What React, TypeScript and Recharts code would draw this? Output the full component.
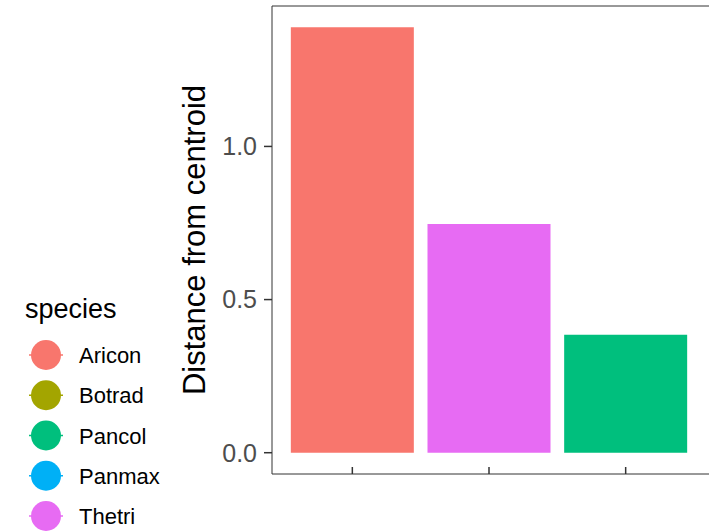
import React from "react"
import { BarChart, Bar, Cell, XAxis, YAxis, Legend } from "recharts"

// species shown as bars, in panel order
const barSpecies = ["Aricon", "Thetri", "Pancol"]
const distances = [1.389, 0.747, 0.385]

// legend entries (full factor levels)
const legendSpecies = ["Aricon", "Botrad", "Pancol", "Panmax", "Thetri"]
const speciesColors = ["#F8766D", "#A3A500", "#00BF7D", "#00B0F6", "#E76BF3"]

const yTicks = [0, 0.5, 1.0]
const yDomain = [-0.0695, 1.4585]

const FONT = '"Liberation Sans", Arial, Helvetica, sans-serif'

const data = barSpecies.map((s, i) => ({ species: s, distance: distances[i] }))
const colorOf = (s: string) => speciesColors[legendSpecies.indexOf(s)]

const YTitle = ({ viewBox }: any) => {
  const x = viewBox.x + 205
  const y = viewBox.y + viewBox.height / 2
  return (
    <text
      x={x}
      y={y}
      transform={`rotate(-90, ${x}, ${y})`}
      textAnchor="middle"
      fontFamily={FONT}
      fontSize={31}
      fill="#000"
    >
      Distance from centroid
    </text>
  )
}

const SpeciesLegend = () => (
  <svg width={170} height={250} style={{ display: "block" }}>
    <text x={25} y={28} fontFamily={FONT} fontSize={27} fill="#000">
      species
    </text>
    {legendSpecies.map((s, i) => {
      const cy = 65 + i * 40.25
      return (
        <g key={s}>
          <line x1={29} x2={63} y1={cy} y2={cy} stroke={speciesColors[i]} strokeWidth={1.5} />
          <circle cx={46} cy={cy} r={15} fill={speciesColors[i]} />
          <text x={79} y={cy + 8} fontFamily={FONT} fontSize={22} fill="#000">
            {s}
          </text>
        </g>
      )
    })}
  </svg>
)

export default function App() {
  return (
    <div style={{ position: "absolute", left: 0, top: 0, width: 709, height: 532, overflow: "hidden", background: "#fff" }}>
      <BarChart
        width={711}
        height={532}
        data={data}
        margin={{ top: 5, right: 1, bottom: 58, left: 0 }}
        barCategoryGap="5%"
      >
        <XAxis
          dataKey="species"
          height={1}
          mirror
          padding={{ left: 12, right: 16 }}
          tickFormatter={() => ""}
          tickSize={7}
          tickLine={{ stroke: "#333", strokeWidth: 1.5 }}
          axisLine={{ stroke: "#333", strokeWidth: 1 }}
        />
        <XAxis
          xAxisId="top"
          orientation="top"
          dataKey="species"
          height={1}
          tick={false}
          tickLine={false}
          axisLine={{ stroke: "#333", strokeWidth: 1 }}
        />
        <YAxis
          width={272}
          type="number"
          domain={yDomain}
          allowDataOverflow
          ticks={yTicks}
          tickFormatter={(v: number) => v.toFixed(1)}
          tickSize={8}
          tickMargin={7}
          tick={{ fontFamily: FONT, fontSize: 25, fill: "#4D4D4D" }}
          tickLine={{ stroke: "#333", strokeWidth: 1.5 }}
          axisLine={{ stroke: "#333", strokeWidth: 1 }}
          label={<YTitle />}
        />
        <Legend
          layout="horizontal"
          verticalAlign="middle"
          align="center"
          content={() => <SpeciesLegend />}
          wrapperStyle={{ left: 0, top: 290, width: 170, height: 250 }}
        />
        <Bar dataKey="distance" isAnimationActive={false}>
          {data.map((d) => (
            <Cell key={d.species} fill={colorOf(d.species)} />
          ))}
        </Bar>
      </BarChart>
    </div>
  )
}
